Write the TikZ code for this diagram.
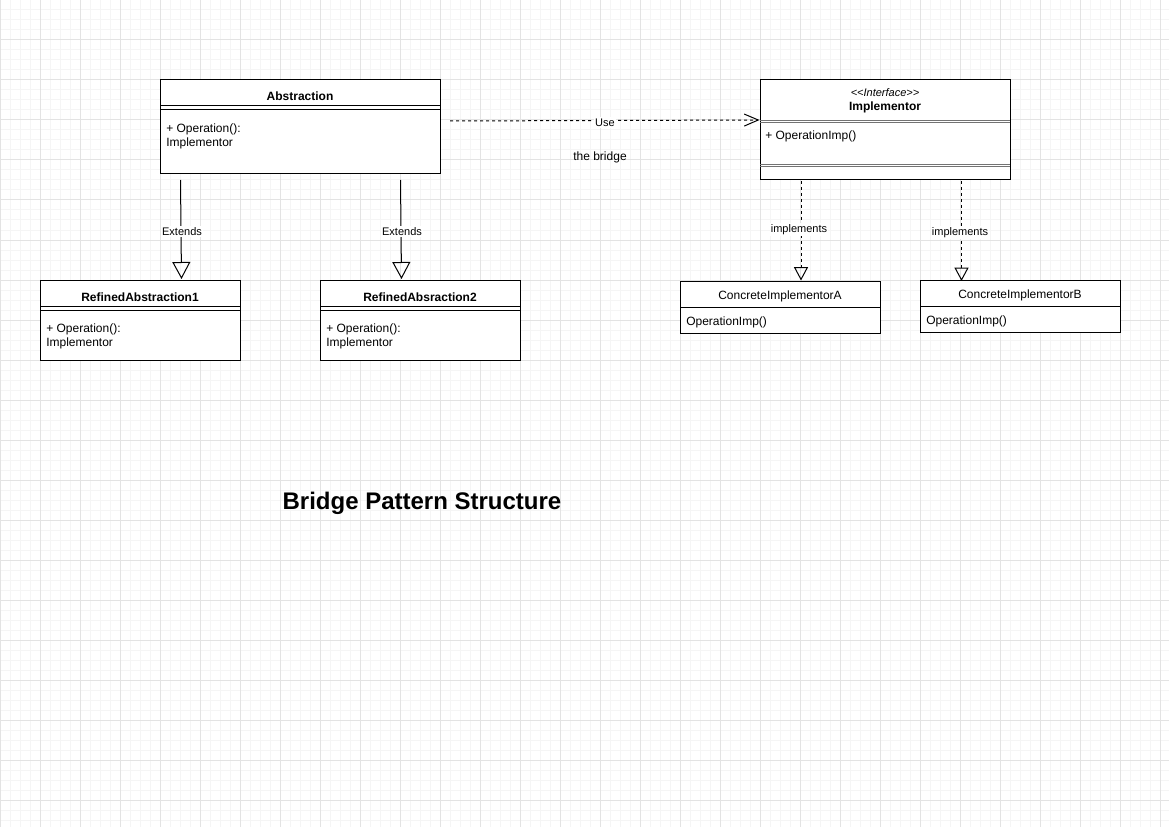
\documentclass[tikz,border=0pt]{standalone}
\usepackage{fontspec}
\setmainfont{Liberation Sans}
\usetikzlibrary{arrows.meta}
\begin{document}
\begin{tikzpicture}[x=0.75pt,y=-0.75pt,
  umlbox/.style={draw=black, line width=0.75pt, fill=white, inner sep=0pt},
  sepline/.style={draw=black, line width=0.75pt},
  graysep/.style={draw=black!55, line width=0.75pt},
  txt/.style={inner sep=0pt, yshift=-1.3pt, font=\fontsize{9pt}{10.5pt}\selectfont},
  btxt/.style={inner sep=0pt, yshift=-1.3pt, font=\fontsize{9pt}{10.5pt}\selectfont\bfseries},
  elabel/.style={inner sep=1pt, fill=white, yshift=-1.2pt, font=\fontsize{8.25pt}{9pt}\selectfont},
  extendsedge/.style={draw=black, line width=0.75pt, -{Triangle[open, width=13.5pt, length=12.75pt]}},
  impledge/.style={draw=black, line width=0.75pt, dash pattern=on 2.25pt off 2.25pt, -{Triangle[open, width=10.5pt, length=10pt]}},
  useedge/.style={draw=black, line width=0.75pt, dash pattern=on 2.25pt off 2.25pt, -{Straight Barb[length=10.5pt, width=9pt, line width=0.75pt]}},
  minorg/.style={draw=black!4, line width=0.75pt},
  majorg/.style={draw=black!11, line width=0.75pt}]
\useasboundingbox (0,0) rectangle (1169,827);
\fill[white] (0,0) rectangle (1169,827);
% grid
\foreach \i in {0,10,...,1160} { \draw[minorg] (\i,0) -- (\i,827); }
\foreach \j in {0,10,...,820} { \draw[minorg] (0,\j) -- (1169,\j); }
\foreach \i in {0,40,...,1160} { \draw[majorg] (\i,0) -- (\i,827); }
\foreach \j in {0,40,...,800} { \draw[majorg] (0,\j) -- (1169,\j); }

% Abstraction
\node[umlbox, minimum width=210pt, minimum height=70.5pt] (abs) at (300,127) {};
\draw[sepline] (160,106) -- (440,106);
\draw[sepline] (160,110) -- (440,110);
\node[btxt] (absT) at (300,94) {Abstraction};
\node[txt, anchor=west] (absO1) at (166,128) {+ Operation():};
\node[txt, anchor=west] (absO2) at (166,142) {Implementor};

% RefinedAbstraction1
\node[umlbox, minimum width=150pt, minimum height=60pt] (ra1) at (140,320) {};
\draw[sepline] (40,306) -- (240,306);
\draw[sepline] (40,310) -- (240,310);
\node[btxt] (ra1T) at (140,295) {RefinedAbstraction1};
\node[txt, anchor=west] (ra1O1) at (46,328) {+ Operation():};
\node[txt, anchor=west] (ra1O2) at (46,342) {Implementor};

% RefinedAbsraction2
\node[umlbox, minimum width=150pt, minimum height=60pt] (ra2) at (420,320) {};
\draw[sepline] (320,306) -- (520,306);
\draw[sepline] (320,310) -- (520,310);
\node[btxt] (ra2T) at (420,295) {RefinedAbsraction2};
\node[txt, anchor=west] (ra2O1) at (326,328) {+ Operation():};
\node[txt, anchor=west] (ra2O2) at (326,342) {Implementor};

% Implementor
\node[umlbox, minimum width=187.5pt, minimum height=75pt] (imp) at (885,130) {};
\draw[graysep] (760,121) -- (1010,121);
\draw[graysep] (760,123) -- (1010,123);
\draw[graysep] (760,164.5) -- (1010,164.5);
\draw[graysep] (760,166.5) -- (1010,166.5);
\node[inner sep=0pt, yshift=-1.2pt, font=\fontsize{8.25pt}{9pt}\selectfont\itshape] (impS) at (885,91) {<{}<Interface>{}>};
\node[btxt] (impT) at (885,106) {Implementor};
\node[txt, anchor=west] (impO) at (765,135) {+ OperationImp()};

% ConcreteImplementorA
\node[umlbox, minimum width=150pt, minimum height=39pt] (cia) at (780,307) {};
\draw[sepline] (680,307.5) -- (880,307.5);
\node[txt] (ciaT) at (780,294.5) {ConcreteImplementorA};
\node[txt, anchor=west] (ciaO) at (686,321) {OperationImp()};

% ConcreteImplementorB
\node[umlbox, minimum width=150pt, minimum height=39pt] (cib) at (1020,306) {};
\draw[sepline] (920,306.5) -- (1120,306.5);
\node[txt] (cibT) at (1020,293.5) {ConcreteImplementorB};
\node[txt, anchor=west] (cibO) at (926,320) {OperationImp()};

% connectors
\coordinate (e1s) at (180.5,180);
\coordinate (e1e) at (181.5,279);
\draw[extendsedge] (e1s) -- (e1e);
\node[elabel] (e1l) at (182,230) {Extends};

\coordinate (e2s) at (400.5,180);
\coordinate (e2e) at (401.5,279);
\draw[extendsedge] (e2s) -- (e2e);
\node[elabel] (e2l) at (402,230) {Extends};

\coordinate (i1s) at (801,181);
\draw[impledge] (i1s) -- (cia.north -| i1s);
\node[elabel] (i1l) at (799,228) {implements};

\coordinate (i2s) at (961.5,181);
\draw[impledge] (i2s) -- (961.5,281);
\node[elabel] (i2l) at (960,231) {implements};

\coordinate (us) at (450,121);
\draw[useedge] (us) -- (imp.west |- 0,120);
\node[elabel] (ul) at (605,121) {Use};

\node[txt] (bridge) at (600,156) {the bridge};

\node[inner sep=0pt, yshift=-1.5pt, font=\fontsize{18pt}{21pt}\selectfont\bfseries] (title) at (422,501) {Bridge Pattern Structure};
\end{tikzpicture}
\end{document}
